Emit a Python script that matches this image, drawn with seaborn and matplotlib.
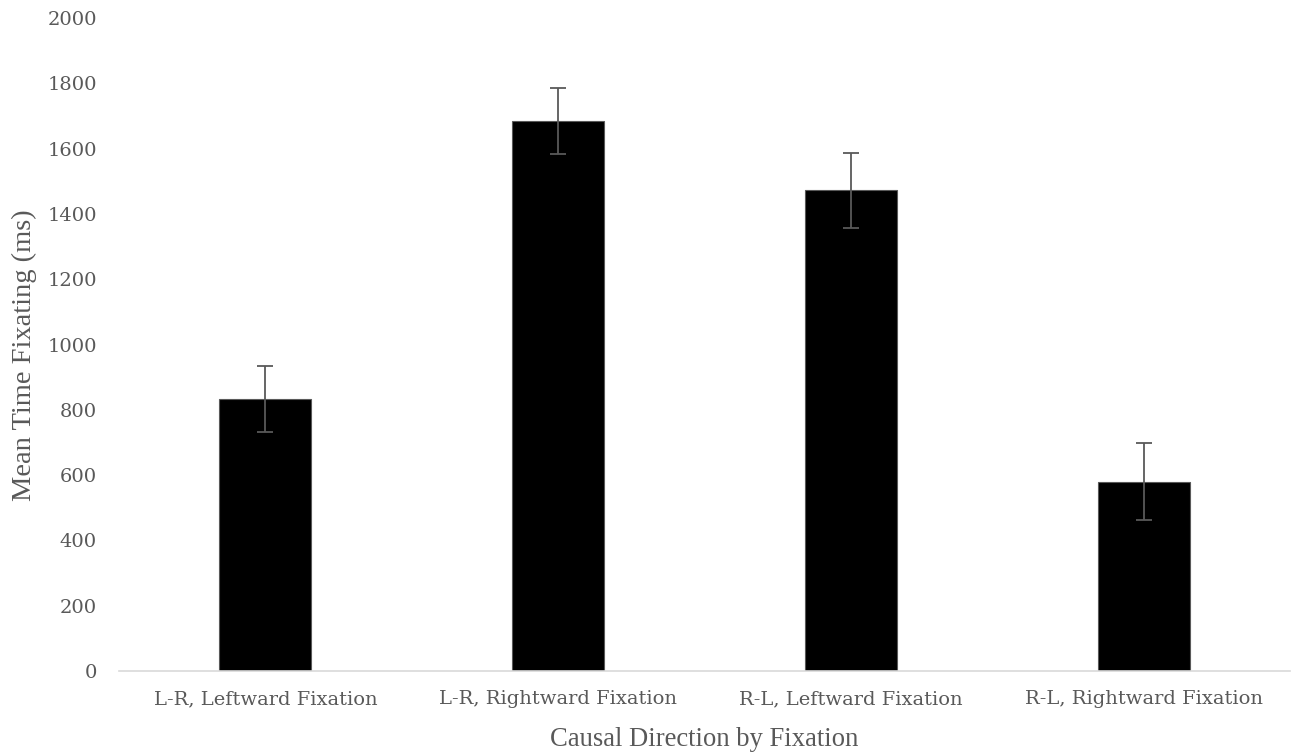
import matplotlib
matplotlib.use("Agg")
import matplotlib.pyplot as plt
import seaborn as sns
import pandas as pd

# values
conditions = ["L-R, Leftward Fixation", "L-R, Rightward Fixation",
              "R-L, Leftward Fixation", "R-L, Rightward Fixation"]
mean_ms = [833, 1685, 1472, 580]
err_ms = [102, 102, 114, 117]
y_ticks = [0, 200, 400, 600, 800, 1000, 1200, 1400, 1600, 1800, 2000]

df = pd.DataFrame({"condition": conditions, "mean": mean_ms})

sns.set_theme(style="white")
plt.rcParams["font.family"] = ["DejaVu Serif"]

fig, ax = plt.subplots(figsize=(12.96, 7.53), dpi=100)
fig.subplots_adjust(left=0.0918, right=0.9954, bottom=0.1089, top=0.976)

sns.barplot(data=df, x="condition", y="mean", color="black", width=0.315,
            edgecolor="#595959", linewidth=0.8, errorbar=None, ax=ax)
ax.errorbar(conditions, mean_ms, yerr=err_ms, fmt="none", ecolor="#595959",
            elinewidth=1.3, capsize=6, capthick=1.3)

ax.set_xlim(-0.5, len(conditions) - 0.5)
ax.set_ylim(0, 2000)
ax.set_yticks(y_ticks)
ax.tick_params(axis="both", length=0, labelsize=14, labelcolor="#595959")
ax.tick_params(axis="y", pad=16)
ax.tick_params(axis="x", pad=14)

for side in ["top", "right", "left"]:
    ax.spines[side].set_visible(False)
ax.spines["bottom"].set_color("#d9d9d9")
ax.spines["bottom"].set_linewidth(1.2)

ax.set_xlabel("Causal Direction by Fixation", fontsize=19.2, color="#595959",
              family="Liberation Serif")
ax.set_ylabel("Mean Time Fixating (ms)", fontsize=20.5, color="#595959",
              family="Liberation Serif")
ax.yaxis.set_label_coords(-0.070, 0.484)
ax.xaxis.set_label_coords(0.5, -0.086)

fig.savefig("out.png", dpi=100)
